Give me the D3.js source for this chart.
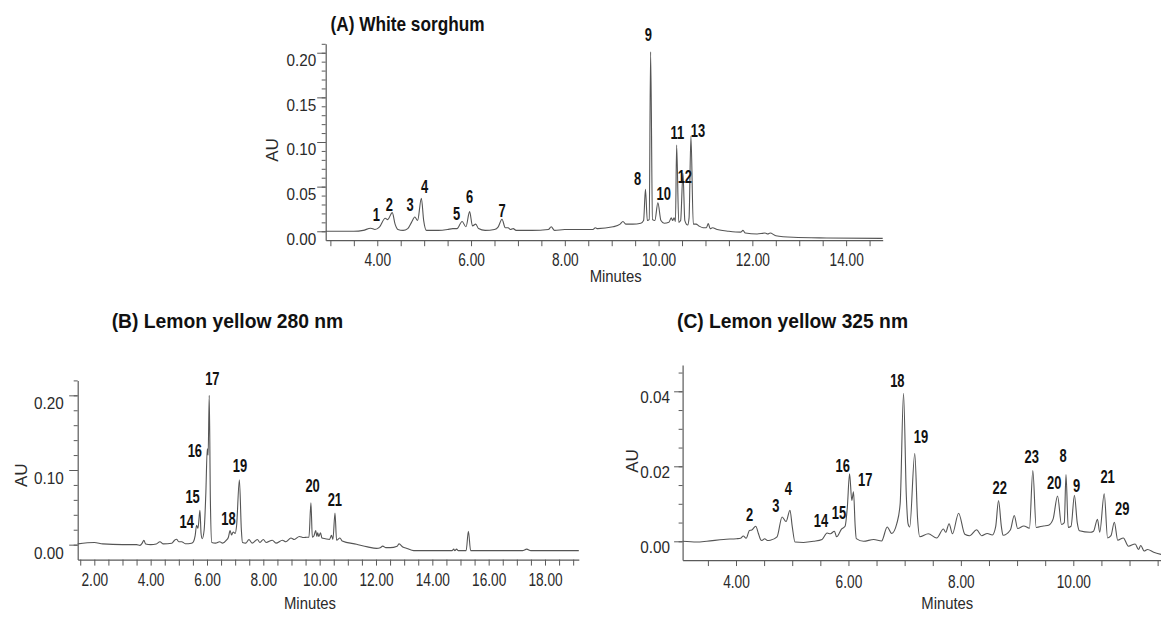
<!DOCTYPE html>
<html>
<head>
<meta charset="utf-8">
<script src="https://cdn.jsdelivr.net/npm/d3@7"></script>
<style>
  html, body { margin: 0; padding: 0; background: #fff; }
  svg { display: block; }
  text { font-family: "Liberation Sans", Arial, sans-serif; }
</style>
</head>
<body>
<svg id="chart" width="1161" height="622"></svg>
<script>
// ---------------- DATA ----------------
const titles = ["(A) White sorghum", "(B) Lemon yellow 280 nm", "(C) Lemon yellow 325 nm"];
const xAxisLabel = "Minutes";
const yAxisLabel = "AU";

// Retention time (min), absorbance (AU)
const traceA = [[2.90,0.000],[3.50,0.000],[3.70,0.001],[3.86,0.0034],[3.95,0.002],[4.05,0.005],[4.17,0.0146],[4.22,0.013],[4.32,0.0209],[4.38,0.008],[4.44,0.002],[4.55,0.001],[4.65,0.003],[4.73,0.010],[4.80,0.016],[4.86,0.012],[4.94,0.037],[4.99,0.012],[5.05,0.001],[5.30,0.001],[5.50,0.002],[5.61,0.003],[5.70,0.003],[5.81,0.011],[5.89,0.005],[5.97,0.022],[6.03,0.006],[6.10,0.008],[6.16,0.003],[6.30,0.001],[6.50,0.002],[6.58,0.005],[6.66,0.0134],[6.73,0.004],[6.79,0.004],[6.84,0.002],[6.90,0.003],[6.96,0.001],[7.30,0.001],[7.65,0.002],[7.71,0.005],[7.78,0.001],[8.00,0.002],[8.30,0.002],[8.60,0.002],[8.65,0.004],[8.70,0.003],[9.03,0.005],[9.18,0.008],[9.24,0.011],[9.30,0.008],[9.45,0.008],[9.62,0.009],[9.68,0.012],[9.72,0.047],[9.76,0.012],[9.80,0.013],[9.83,0.201],[9.87,0.013],[9.92,0.012],[9.985,0.032],[10.05,0.012],[10.12,0.009],[10.22,0.010],[10.27,0.015],[10.30,0.012],[10.33,0.015],[10.36,0.011],[10.385,0.0966],[10.43,0.010],[10.47,0.012],[10.52,0.065],[10.56,0.012],[10.62,0.007],[10.65,0.015],[10.69,0.1067],[10.74,0.008],[10.80,0.008],[10.86,0.006],[10.95,0.004],[11.02,0.004],[11.06,0.0087],[11.10,0.003],[11.15,0.004],[11.25,0.002],[11.50,0.000],[11.75,-0.001],[11.80,0.001],[11.85,-0.002],[12.10,-0.003],[12.27,-0.002],[12.33,-0.003],[12.38,-0.002],[12.50,-0.005],[12.87,-0.0067],[13.58,-0.0075],[14.78,-0.008]];

const traceB = [[1.41,0.001],[2.00,0.003],[2.30,0.001],[3.00,0.000],[3.50,0.000],[3.62,-0.001],[3.70,0.002],[3.76,0.006],[3.82,0.001],[4.00,0.000],[4.20,0.001],[4.33,0.004],[4.45,0.001],[4.75,0.002],[4.85,0.006],[4.92,0.0073],[5.00,0.004],[5.10,0.004],[5.23,0.0013],[5.45,0.002],[5.52,0.004],[5.58,0.012],[5.63,0.026],[5.68,0.022],[5.75,0.046],[5.79,0.015],[5.83,0.008],[5.90,0.020],[5.96,0.070],[6.01,0.1285],[6.04,0.120],[6.08,0.200],[6.12,0.060],[6.17,0.003],[6.30,0.002],[6.45,0.004],[6.55,0.002],[6.69,0.006],[6.76,0.010],[6.82,0.019],[6.87,0.013],[6.93,0.017],[7.00,0.015],[7.05,0.025],[7.15,0.087],[7.22,0.020],[7.26,0.003],[7.38,0.002],[7.49,0.007],[7.60,0.002],[7.79,0.007],[7.88,0.003],[8.00,0.007],[8.10,0.003],[8.32,0.006],[8.45,0.002],[8.68,0.006],[8.80,0.004],[8.98,0.009],[9.10,0.007],[9.28,0.011],[9.43,0.0095],[9.55,0.010],[9.62,0.010],[9.69,0.056],[9.74,0.010],[9.80,0.012],[9.86,0.019],[9.90,0.011],[9.93,0.016],[9.97,0.011],[10.03,0.016],[10.08,0.009],[10.20,0.008],[10.35,0.007],[10.42,0.0125],[10.47,0.007],[10.545,0.0424],[10.60,0.006],[10.72,0.009],[10.80,0.005],[11.31,0.0005],[11.70,-0.003],[12.02,-0.005],[12.15,-0.004],[12.24,-0.002],[12.35,-0.004],[12.50,-0.004],[12.75,-0.002],[12.82,0.001],[12.95,-0.003],[13.10,-0.005],[13.34,-0.008],[14.00,-0.008],[14.70,-0.008],[14.76,-0.006],[14.80,-0.008],[14.86,-0.006],[14.92,-0.008],[15.20,-0.008],[15.28,0.018],[15.36,-0.008],[17.20,-0.008],[17.35,-0.006],[17.50,-0.008],[19.20,-0.008]];

const traceC = [[3.05,0.000],[3.30,-0.0002],[3.48,0.000],[3.78,0.0005],[4.01,0.0007],[4.08,0.0008],[4.13,0.0014],[4.18,0.0008],[4.24,0.0029],[4.28,0.003],[4.35,0.004],[4.40,0.002],[4.43,0.0007],[4.46,0.0002],[4.51,0.0007],[4.56,0.0002],[4.61,0.0003],[4.73,0.0012],[4.82,0.0065],[4.89,0.0053],[4.96,0.0083],[5.00,0.004],[5.05,-0.0002],[5.20,-0.0003],[5.38,0.0000],[5.53,0.0005],[5.62,0.0022],[5.68,0.002],[5.75,0.0027],[5.79,0.0012],[5.88,0.0033],[5.94,0.004],[5.98,0.009],[6.02,0.018],[6.06,0.0109],[6.09,0.0132],[6.12,0.004],[6.14,0.0007],[6.27,0.000],[6.45,0.0005],[6.59,0.0001],[6.69,0.0038],[6.77,0.0021],[6.86,0.0047],[6.92,0.010],[6.98,0.0395],[7.03,0.012],[7.06,0.0047],[7.09,0.0038],[7.18,0.0234],[7.23,0.006],[7.27,0.0012],[7.42,0.002],[7.57,0.0009],[7.69,0.0033],[7.73,0.0024],[7.79,0.0047],[7.85,0.002],[7.96,0.0075],[8.07,0.0019],[8.16,0.0015],[8.28,0.0031],[8.37,0.0015],[8.47,0.0021],[8.56,0.0017],[8.62,0.004],[8.67,0.0109],[8.72,0.004],[8.75,0.0016],[8.88,0.003],[8.95,0.0069],[9.01,0.0034],[9.12,0.0041],[9.22,0.0035],[9.28,0.0189],[9.34,0.0037],[9.47,0.0041],[9.56,0.0043],[9.64,0.0059],[9.72,0.0121],[9.79,0.0045],[9.84,0.005],[9.87,0.0178],[9.91,0.0037],[9.96,0.004],[10.02,0.0123],[10.07,0.005],[10.11,0.0028],[10.30,0.0024],[10.36,0.0027],[10.43,0.0059],[10.47,0.0024],[10.55,0.0127],[10.61,0.0009],[10.67,0.0015],[10.73,0.0051],[10.79,0.0003],[10.89,0.0009],[10.98,-0.0013],[11.10,-0.0007],[11.16,-0.0022],[11.20,-0.0011],[11.26,-0.0026],[11.32,-0.0022],[11.43,-0.0029],[11.56,-0.0035]];

// Peak labels: [label, time, AU] (label centre)
const peaksA = [["1",3.98,0.0183],["2",4.26,0.0295],["3",4.70,0.0295],["4",5.01,0.050],["5",5.69,0.0194],["6",5.97,0.0387],["7",6.66,0.0227],["8",9.55,0.0586],["9",9.78,0.2198],["10",10.11,0.0426],["11",10.40,0.1104],["12",10.56,0.0611],["13",10.84,0.1127]];
const peaksB = [["14",5.28,0.0313],["15",5.49,0.0639],["16",5.57,0.1264],["17",6.19,0.2222],["18",6.76,0.0348],["19",7.17,0.1054],["20",9.75,0.0786],["21",10.54,0.0608]];
const peaksC = [["2",4.24,0.0071],["3",4.71,0.0094],["4",4.93,0.0140],["14",5.51,0.0056],["15",5.83,0.0075],["16",5.90,0.0201],["17",6.30,0.0164],["18",6.87,0.0427],["19",7.29,0.0280],["22",8.69,0.0142],["23",9.26,0.0225],["8",9.82,0.0227],["20",9.66,0.0156],["9",10.06,0.0147],["21",10.61,0.0171],["29",10.87,0.0087]];

// Axis ticks
const xLabelTicksA = [4, 6, 8, 10, 12, 14];
const xLabelTicksB = [2, 4, 6, 8, 10, 12, 14, 16, 18];
const xLabelTicksC = [4, 6, 8, 10];
const yLabelTicksA = [0, 0.05, 0.10, 0.15, 0.20];
const yLabelTicksB = [0, 0.10, 0.20];
const yLabelTicksC = [0, 0.02, 0.04];
const yMinorStepA = 0.01, yMinorStepB = 0.02, yMinorStepC = 0.005;
const xMinorStep = 0.5;

// ---------------- LAYOUT ----------------
const panels = [
  { title: titles[0], trace: traceA, peaks: peaksA, xTicks: xLabelTicksA, yTicks: yLabelTicksA, yStep: yMinorStepA,
    xDomain: [2.90, 14.78], xRange: [325.7, 882.7], yDomain: [-0.01, 0.21], yRange: [240.2, 43.8],
    titleX: 330.5, titleY: 30.5, titleW: 154, yLabGap: 9.5, yLabDy: 7, xLabY: 20,
    minutes: [615.7, 276.7], au: [271.7, 150] },
  { title: titles[1], trace: traceB, peaks: peaksB, xTicks: xLabelTicksB, yTicks: yLabelTicksB, yStep: yMinorStepB,
    xDomain: [1.41, 19.2], xRange: [77.7, 578.8], yDomain: [-0.02, 0.22], yRange: [559.6, 380.4],
    titleX: 111.7, titleY: 328.3, titleW: 231.6, yLabGap: 14, yLabDy: 7.4, xLabY: 20.6,
    minutes: [310, 603.7], au: [20.7, 475.3] },
  { title: titles[2], trace: traceC, peaks: peaksC, xTicks: xLabelTicksC, yTicks: yLabelTicksC, yStep: yMinorStepC,
    xDomain: [3.05, 11.56], xRange: [682.6, 1161], yDomain: [-0.005, 0.047], yRange: [560.05, 365.05],
    titleX: 677, titleY: 328.3, titleW: 231, yLabGap: 12.5, yLabDy: 5.7, xLabY: 21.7,
    minutes: [947.3, 603.7], au: [631.7, 461] }
];

const svg = d3.select("#chart");
svg.append("rect").attr("width", 1161).attr("height", 622).attr("fill", "#fff");

const AXIS_COLOR = "#5a5a5a";
const LINE_COLOR = "#555";
const TEXT_COLOR = "#2a2a2a";

function squeeze(sel, f) {
  sel.each(function () {
    const w = this.getComputedTextLength();
    if (w > 0) {
      this.setAttribute("textLength", (w * f).toFixed(2));
      this.setAttribute("lengthAdjust", "spacingAndGlyphs");
    }
  });
}

function range(a, b, step) {
  const out = [];
  const n = Math.round((b - a) / step);
  for (let i = 0; i <= n; i++) out.push(+(a + i * step).toFixed(6));
  return out;
}

panels.forEach(p => {
  const x = d3.scaleLinear().domain(p.xDomain).range(p.xRange);
  const y = d3.scaleLinear().domain(p.yDomain).range(p.yRange);
  const g = svg.append("g");

  // x ticks every 0.5 min
  const xMin = Math.ceil(p.xDomain[0] / xMinorStep) * xMinorStep;
  const xAll = range(xMin, p.xDomain[1], xMinorStep).filter(v => v <= p.xDomain[1]);
  const gx = g.append("g").attr("transform", `translate(0,${p.yRange[0]})`)
    .call(d3.axisBottom(x).tickValues(xAll).tickSize(6).tickSizeOuter(0)
      .tickFormat(v => p.xTicks.some(t => Math.abs(t - v) < 1e-6) ? d3.format(".2f")(v) : ""));
  gx.select(".domain").attr("stroke", AXIS_COLOR).attr("stroke-width", 1.2);
  gx.selectAll(".tick line").attr("stroke", AXIS_COLOR);
  const xt = gx.selectAll(".tick text").attr("fill", TEXT_COLOR).attr("font-size", 18)
    .attr("y", 0).attr("dy", p.xLabY + 6.3);
  squeeze(xt, 0.76);

  // y minor ticks
  const yMinorVals = range(0, p.yDomain[1], p.yStep).filter(v => v <= p.yDomain[1] + 1e-9);
  const gyMinor = g.append("g").attr("transform", `translate(${p.xRange[0]},0)`)
    .call(d3.axisLeft(y).tickValues(yMinorVals).tickSize(4).tickSizeOuter(0).tickFormat(""));
  gyMinor.select(".domain").attr("stroke", AXIS_COLOR).attr("stroke-width", 1.2);
  gyMinor.selectAll(".tick line").attr("stroke", AXIS_COLOR);

  // y major ticks with labels
  const gy = g.append("g").attr("transform", `translate(${p.xRange[0]},0)`)
    .call(d3.axisLeft(y).tickValues(p.yTicks).tickSize(8.5).tickSizeOuter(0).tickFormat(d3.format(".2f")));
  gy.select(".domain").remove();
  gy.selectAll(".tick line").attr("stroke", AXIS_COLOR);
  const yt = gy.selectAll(".tick text").attr("fill", TEXT_COLOR).attr("font-size", 17)
    .attr("x", -p.yLabGap).attr("dy", (0.35 * 17 + p.yLabDy) + "px");
  squeeze(yt, 0.9);

  // trace
  const line = d3.line().x(d => x(d[0])).y(d => y(d[1])).curve(d3.curveMonotoneX);
  g.append("path").datum(p.trace).attr("d", line)
    .attr("fill", "none").attr("stroke", LINE_COLOR).attr("stroke-width", 1.1)
    .attr("stroke-linejoin", "round");

  // peak labels
  const pl = g.selectAll(".peak").data(p.peaks).join("text")
    .attr("class", "peak")
    .attr("x", d => x(d[1])).attr("y", d => y(d[2]))
    .attr("dy", "0.36em").attr("text-anchor", "middle")
    .attr("font-size", 17.5).attr("font-weight", "bold").attr("fill", "#111")
    .text(d => d[0]);
  squeeze(pl, 0.74);

  // title
  const tt = g.append("text").attr("x", p.titleX).attr("y", p.titleY)
    .attr("font-size", 21).attr("font-weight", "bold").attr("fill", "#111")
    .text(p.title);
  const tw = tt.node().getComputedTextLength();
  tt.attr("textLength", p.titleW).attr("lengthAdjust", "spacingAndGlyphs");

  // axis titles
  const mt = g.append("text").attr("x", p.minutes[0]).attr("y", p.minutes[1])
    .attr("dy", "0.35em").attr("text-anchor", "middle")
    .attr("font-size", 16.5).attr("fill", TEXT_COLOR).text(xAxisLabel);
  squeeze(mt, 0.9);
  g.append("text")
    .attr("transform", `translate(${p.au[0]},${p.au[1]}) rotate(-90)`)
    .attr("dy", "0.35em").attr("text-anchor", "middle")
    .attr("font-size", 17).attr("fill", TEXT_COLOR).text(yAxisLabel);
});
</script>
</body>
</html>
